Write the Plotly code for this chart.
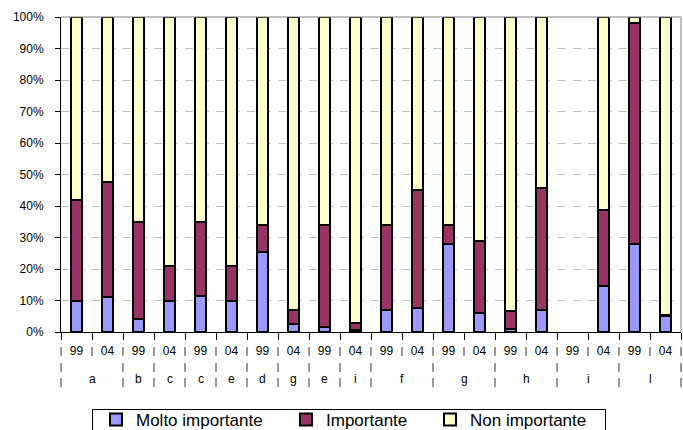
import plotly.graph_objects as go

# Survey year of each bar, left to right
years = ["99", "04"] * 10

# Group label under each run of bars, and how many bars each run spans
group_labels = ["a", "b", "c", "c", "e", "d", "g", "e", "i", "f", "g", "h", "i", "l"]
group_sizes = [2, 1, 1, 1, 1, 1, 1, 1, 1, 2, 2, 2, 2, 2]

# Shares (%) per bar; the "i 99" bar has no data
molto = [10, 11, 4, 10, 11.5, 10, 25.5, 2.5, 1.5, 0.6, 7, 7.5, 28, 6, 0.8, 7, None, 14.5, 28, 5]
importante = [32, 36.5, 31, 11, 23.5, 11, 8.5, 4.5, 32.5, 2.4, 27, 37.5, 6, 23, 5.9, 38.6, None, 24.2, 70, 0.4]
non_importante = [58, 52.5, 65, 79, 65, 79, 66, 93, 66, 97, 66, 55, 66, 71, 93.3, 54.4, None, 61.3, 2, 94.7]

series = [
    ("Molto importante", molto, "#9999ff", "legend"),
    ("Importante", importante, "#993366", "legend2"),
    ("Non importante", non_importante, "#ffffcc", "legend3"),
]

FONT = "Arial, Liberation Sans, sans-serif"
W, H = 683, 430
ML, MR, MT, MB = 61, 2, 17, 98
PW, PH = W - ML - MR, H - MT - MB
n = len(years)
xs = list(range(n))


def px_x(px):
    return (px - ML) / PW


def px_y(py):
    return (H - MB - py) / PH


fig = go.Figure()
for name, vals, color, leg in series:
    fig.add_trace(go.Bar(
        x=xs, y=vals, name=name, legend=leg, showlegend=True,
        marker=dict(color=color, line=dict(color="black", width=2)),
        hoverinfo="skip",
    ))

shapes = []
annotations = []

# separators between the year labels
for k in range(n + 1):
    shapes.append(dict(type="line", xref="paper", yref="paper",
                       x0=k / n, x1=k / n, y0=px_y(347), y1=px_y(356),
                       line=dict(color="#333333", width=1)))

# group separators and group labels
start = 0
bounds = [0]
for lab, size in zip(group_labels, group_sizes):
    annotations.append(dict(x=start + (size - 1) / 2, xref="x", y=px_y(379), yref="paper",
                            text=lab, showarrow=False, yanchor="middle",
                            font=dict(family=FONT, size=12, color="black")))
    start += size
    bounds.append(start)
for b in bounds:
    for y0, y1 in ((363, 372), (378, 387)):
        shapes.append(dict(type="line", xref="paper", yref="paper",
                           x0=b / n, x1=b / n, y0=px_y(y0), y1=px_y(y1),
                           line=dict(color="#333333", width=1)))

# plot-area border on top and right
shapes.append(dict(type="line", xref="paper", yref="paper", x0=0, x1=1, y0=1, y1=1,
                   line=dict(color="#808080", width=1)))
shapes.append(dict(type="line", xref="paper", yref="paper", x0=1, x1=1, y0=0, y1=1,
                   line=dict(color="#808080", width=1)))

# legend frame
shapes.append(dict(type="rect", xref="paper", yref="paper",
                   x0=px_x(92.5), x1=px_x(605.5), y0=px_y(460), y1=px_y(409.5),
                   line=dict(color="black", width=1), fillcolor="rgba(0,0,0,0)"))

legend_common = dict(orientation="h", yanchor="middle", y=px_y(420), xanchor="left",
                     bgcolor="rgba(0,0,0,0)", borderwidth=0, visible=True,
                     font=dict(family=FONT, size=17, color="black"))

fig.update_layout(
    width=W, height=H,
    margin=dict(l=ML, r=MR, t=MT, b=MB, autoexpand=False),
    paper_bgcolor="white", plot_bgcolor="white",
    barmode="stack", bargap=0.62, showlegend=True,
    font=dict(family=FONT, size=12, color="black"),
    shapes=shapes, annotations=annotations,
    legend=dict(x=px_x(96), **legend_common),
    legend2=dict(x=px_x(286), **legend_common),
    legend3=dict(x=px_x(430), **legend_common),
    xaxis=dict(
        range=[-0.5, n - 0.5], tickmode="array", tickvals=xs, ticktext=years,
        ticks="", showgrid=False, zeroline=False,
        showline=True, linecolor="black", linewidth=1,
        tickfont=dict(family=FONT, size=12, color="black"),
        ticklabelstandoff=8,
        minor=dict(tickmode="array", tickvals=[k - 0.5 for k in range(n + 1)],
                   ticks="outside", ticklen=7, tickcolor="black", tickwidth=1,
                   showgrid=False),
    ),
    yaxis=dict(
        range=[0, 100], tickmode="linear", tick0=0, dtick=10, ticksuffix="%",
        ticks="outside", ticklen=5, tickcolor="black", tickwidth=1,
        showline=True, linecolor="black", linewidth=1,
        showgrid=True, gridcolor="#c0c0c0", gridwidth=1, griddash="8px,7.5px",
        zeroline=False, ticklabelstandoff=9,
        tickfont=dict(family=FONT, size=12, color="black"),
    ),
)

fig.write_html("out.html")
